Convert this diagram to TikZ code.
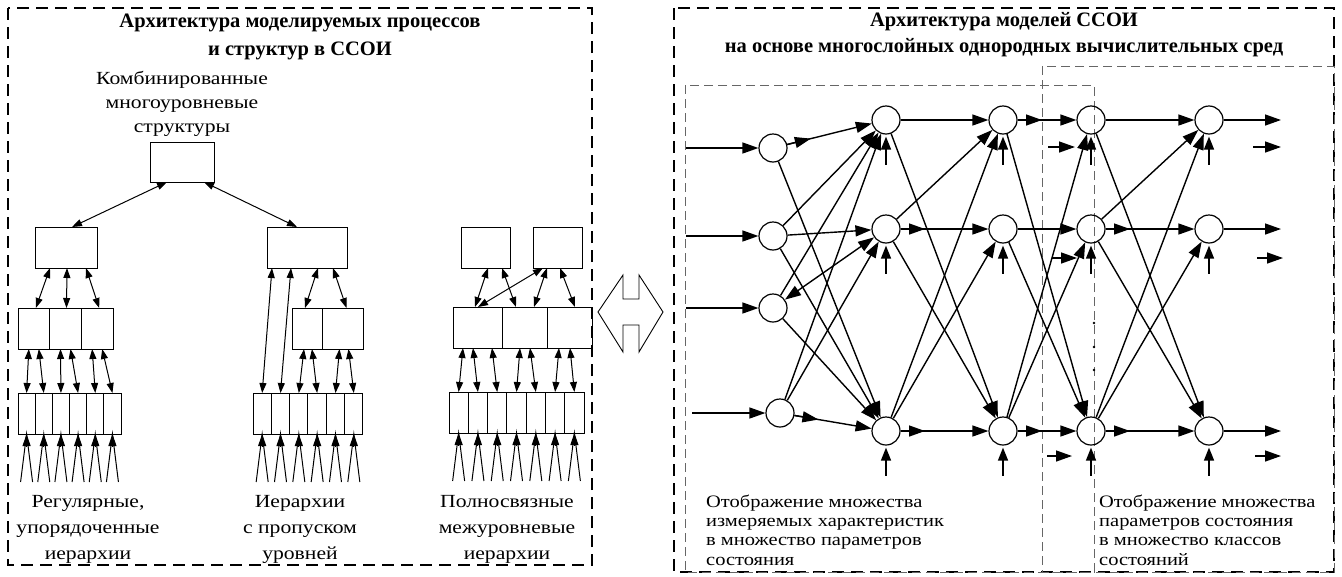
\documentclass[tikz,border=0pt]{standalone}
\usepackage{fontspec}
\setmainfont{Liberation Serif}
\newfontfamily\lblfont[FakeStretch=1.17]{Liberation Serif}
\usetikzlibrary{arrows.meta,calc}

\begin{document}
\begin{tikzpicture}[x=1pt,y=-1pt]
\tikzset{
  cell/.style={draw,line width=1pt,minimum height=41pt,inner sep=0pt,outer sep=0pt},
  bi/.style={{Triangle[length=10pt,width=7pt]}-{Triangle[length=10pt,width=7pt]},line width=1pt},
  feed/.style={line width=1pt},
  up/.style={-{Triangle[length=12pt,width=8pt]},line width=1pt},
  neuron/.style={draw,circle,minimum size=28pt,inner sep=0pt,line width=1.2pt},
  link/.style={-{Triangle[length=16pt,width=11pt]},line width=1.4pt},
  bilink/.style={{Triangle[length=16pt,width=11pt]}-{Triangle[length=16pt,width=11pt]},line width=1.4pt},
  bias/.style={-{Triangle[length=13pt,width=10pt]},line width=1.4pt},
  frame/.style={line width=1.2pt,dash pattern=on 12pt off 7pt},
  subframe/.style={line width=0.8pt,draw=black!60,dash pattern=on 9pt off 5pt},
  hd/.style={font=\bfseries\fontsize{20.5}{28}\selectfont,align=center,inner sep=0pt},
  lbl/.style={font=\lblfont\fontsize{18.5}{26}\selectfont,align=center,inner sep=0pt},
  note/.style={font=\lblfont\fontsize{17.5}{19.3}\selectfont,align=left,anchor=west,inner sep=0pt}
}
\useasboundingbox (0,0) rectangle (1342,576);

\draw[frame] (8,8) rectangle (592,565);
\draw[frame] (674,8) rectangle (1334,572);
\draw[subframe] (685,85) rectangle (1094,572);
\draw[subframe] (1042,66) rectangle (1334,572);

\node[hd] (ltitle) at (300,37) {Архитектура моделируемых процессов\\и структур в ССОИ};
\node[hd,font=\bfseries\fontsize{20.5}{26}\selectfont] (rtitle) at (1004,35)
  {Архитектура моделей ССОИ\\на основе многослойных однородных вычислительных сред};

% 左側の階層
\node[lbl,font=\lblfont\fontsize{18.5}{24}\selectfont] (combtxt) at (182,104)
  {Комбинированные\\многоуровневые\\структуры};
\node[cell,minimum width=64pt,minimum height=40pt] (comb) at (182,162) {};

\node[cell,minimum width=62pt] (reg) at (66,247.5) {};
\foreach \i in {1,2,3} \node[cell,minimum width=31.67pt] (reg\i) at ({18+31.67*(\i-0.5)},328.5) {};
\foreach \i in {1,...,6} \node[cell,minimum width=17.17pt] (rl\i) at ({18+17.17*(\i-0.5)},413.5) {};

\node[cell,minimum width=80pt] (skp) at (307,247.5) {};
\node[cell,minimum width=30pt] (skp1) at (307,328.5) {};
\node[cell,minimum width=41pt] (skp2) at (342.5,328.5) {};
\foreach \i in {1,...,6} \node[cell,minimum width=18.33pt] (sl\i) at ({253+18.33*(\i-0.5)},413.5) {};

\node[cell,minimum width=49pt] (fa) at (485.5,247.5) {};
\node[cell,minimum width=49pt] (fb) at (557.5,247.5) {};
\node[cell,minimum width=49pt] (full1) at (477.5,327.5) {};
\node[cell,minimum width=45pt] (full2) at (524.5,327.5) {};
\node[cell,minimum width=45pt] (full3) at (569.5,327.5) {};
\foreach \i in {1,...,7} \node[cell,minimum width=19.29pt] (fl\i) at ({449+19.29*(\i-0.5)},412.5) {};

\draw[bi] ([xshift=6pt]reg.north) -- ([xshift=-15pt]comb.south);
\draw[bi] ([xshift=-10pt]skp.north) -- ([xshift=22pt]comb.south);

\draw[bi] ([xshift=-16pt]reg.south) -- ([xshift=2pt]reg1.north);
\draw[bi] ([xshift=1pt]reg.south) -- ([xshift=1pt]reg2.north);
\draw[bi] ([xshift=20pt]reg.south) -- ([xshift=2pt]reg3.north);
\foreach \i/\l/\r in {1/1/2,2/3/4,3/5/6} {
  \draw[bi] ([xshift=-5pt]reg\i.south) -- (rl\l.north);
  \draw[bi] ([xshift=5pt]reg\i.south) -- (rl\r.north);
}

\draw[bi] ([xshift=-35pt]skp.south) -- (sl1.north);
\draw[bi] ([xshift=-16pt]skp.south) -- (sl2.north);
\draw[bi] ([xshift=11pt]skp.south) -- ([xshift=-2pt]skp1.north);
\draw[bi] ([xshift=26pt]skp.south) -- ([xshift=4pt]skp2.north);
\draw[bi] ([xshift=-3pt]skp1.south) -- (sl3.north);
\draw[bi] ([xshift=5pt]skp1.south) -- (sl4.north);
\draw[bi] ([xshift=-3pt]skp2.south) -- (sl5.north);
\draw[bi] ([xshift=6pt]skp2.south) -- (sl6.north);

\draw[bi] ([xshift=2.5pt]fa.south) -- ([xshift=-2.5pt]full1.north);
\draw[bi] ([xshift=16.5pt]fa.south) -- ([xshift=-8.5pt]full2.north);
\draw[bi] ([xshift=-14.5pt]fb.south) -- ([xshift=0.5pt]full1.north);
\draw[bi] ([xshift=-10.5pt]fb.south) -- ([xshift=9.5pt]full2.north);
\draw[bi] ([xshift=2.5pt]fb.south) -- ([xshift=5.5pt]full3.north);
\draw[bi] ([xshift=-14.5pt]full1.south) -- (fl1.north);
\draw[bi] ([xshift=-4.5pt]full1.south) -- (fl2.north);
\draw[bi] ([xshift=14.5pt]full1.south) -- (fl3.north);
\draw[bi] ([xshift=-4.5pt]full2.south) -- (fl4.north);
\draw[bi] ([xshift=5.5pt]full2.south) -- (fl5.north);
\draw[bi] ([xshift=-10.5pt]full3.south) -- (fl6.north);
\draw[bi] ([xshift=0.5pt]full3.south) -- (fl7.north);

\foreach \c in {rl1,rl2,rl3,rl4,rl5,rl6,sl1,sl2,sl3,sl4,sl5,sl6,fl1,fl2,fl3,fl4,fl5,fl6,fl7} {
  \coordinate (\c l) at ([xshift=-6pt,yshift=-48pt]\c.south);
  \coordinate (\c r) at ([xshift=6pt,yshift=-48pt]\c.south);
  \draw[feed] (\c l) -- (\c.south) -- (\c r);
  \draw[up] ([yshift=-12pt]\c.south) -- (\c.south);
}

\node[lbl] (regtxt) at (88,529) {Регулярные,\\упорядоченные\\иерархии};
\node[lbl] (skptxt) at (300,529) {Иерархии\\с пропуском\\уровней};
\node[lbl] (fulltxt) at (507,529) {Полносвязные\\межуровневые\\иерархии};

\draw[line width=0.9pt] (598,312) -- (623,275) -- (623,299) -- (639,299) -- (639,275) -- (663,312)
  -- (639,352) -- (639,325) -- (623,325) -- (623,352) -- cycle;

% 右側のネットワーク
\node[neuron] (x1) at (773,148) {};
\node[neuron] (x2) at (773,236) {};
\node[neuron] (x3) at (773,308) {};
\node[neuron] (x4) at (780,413) {};
\foreach \n/\x in {u/886,v/1003,w/1091,z/1209} {
  \node[neuron] (\n1) at (\x,120) {};
  \node[neuron] (\n2) at (\x,229) {};
  \node[neuron] (\n3) at (\x,431) {};
}

\coordinate (e1) at (686,148);
\coordinate (e2) at (686,236);
\coordinate (e3) at (686,308);
\coordinate (e4) at (692,413);
\foreach \i in {1,...,4} \draw[link] (e\i) -- (x\i);

\foreach \a/\b in {x1/u3,x2/u1,x2/u2,x2/u3,x3/u1,x3/u3,x4/u1,x4/u2,
                   u1/v1,u1/v3,u2/v1,u2/v3,u3/v1,u3/v2,
                   v1/w3,v2/w2,v2/w3,v3/w1,v3/w2,
                   w1/z1,w1/z3,w2/z1,w2/z3,w3/z1,w3/z2}
  \draw[link] (\a) -- (\b);
% 二重の矢印
\foreach \a/\b in {x1/u1,x4/u3,u2/v2,u3/v3,v1/w1,v3/w3,w2/z2,w3/z3} {
  \draw[link] (\a) -- (\b);
  \draw[link] (\a) -- ($(\a)!39pt!(\b)$);
}
\draw[bilink] (x3) -- (u2);

\foreach \n in {u1,u2,u3,v1,v2,v3,w1,w2,w3,z1,z2,z3}
  \draw[bias] ([yshift=-30pt]\n.south) -- ([yshift=-2pt]\n.south);

\coordinate (o1) at (1281,120);
\coordinate (o2) at (1281,229);
\coordinate (o3) at (1281,431);
\foreach \i in {1,2,3} \draw[link] (z\i) -- (o\i);

\coordinate (sa1) at (1048,147);
\coordinate (sb1) at (1075,147);
\coordinate (sa2) at (1052,258);
\coordinate (sb2) at (1077,258);
\coordinate (sa3) at (1047,456);
\coordinate (sb3) at (1072,456);
\coordinate (ta1) at (1253,147);
\coordinate (tb1) at (1281,147);
\coordinate (ta2) at (1257,258);
\coordinate (tb2) at (1283,258);
\coordinate (ta3) at (1255,456);
\coordinate (tb3) at (1281,456);
\foreach \i in {1,2,3} {
  \draw[link] (sa\i) -- (sb\i);
  \draw[link] (ta\i) -- (tb\i);
}

\foreach \y in {323,347,370} \fill (1094,\y) circle (1.3pt);

\node[note] (lnote) at (706,530)
  {Отображение множества\\измеряемых характеристик\\в множество параметров\\состояния};
\node[note] (rnote) at (1099,530)
  {Отображение множества\\параметров состояния\\в множество классов\\состояний};
\end{tikzpicture}
\end{document}
